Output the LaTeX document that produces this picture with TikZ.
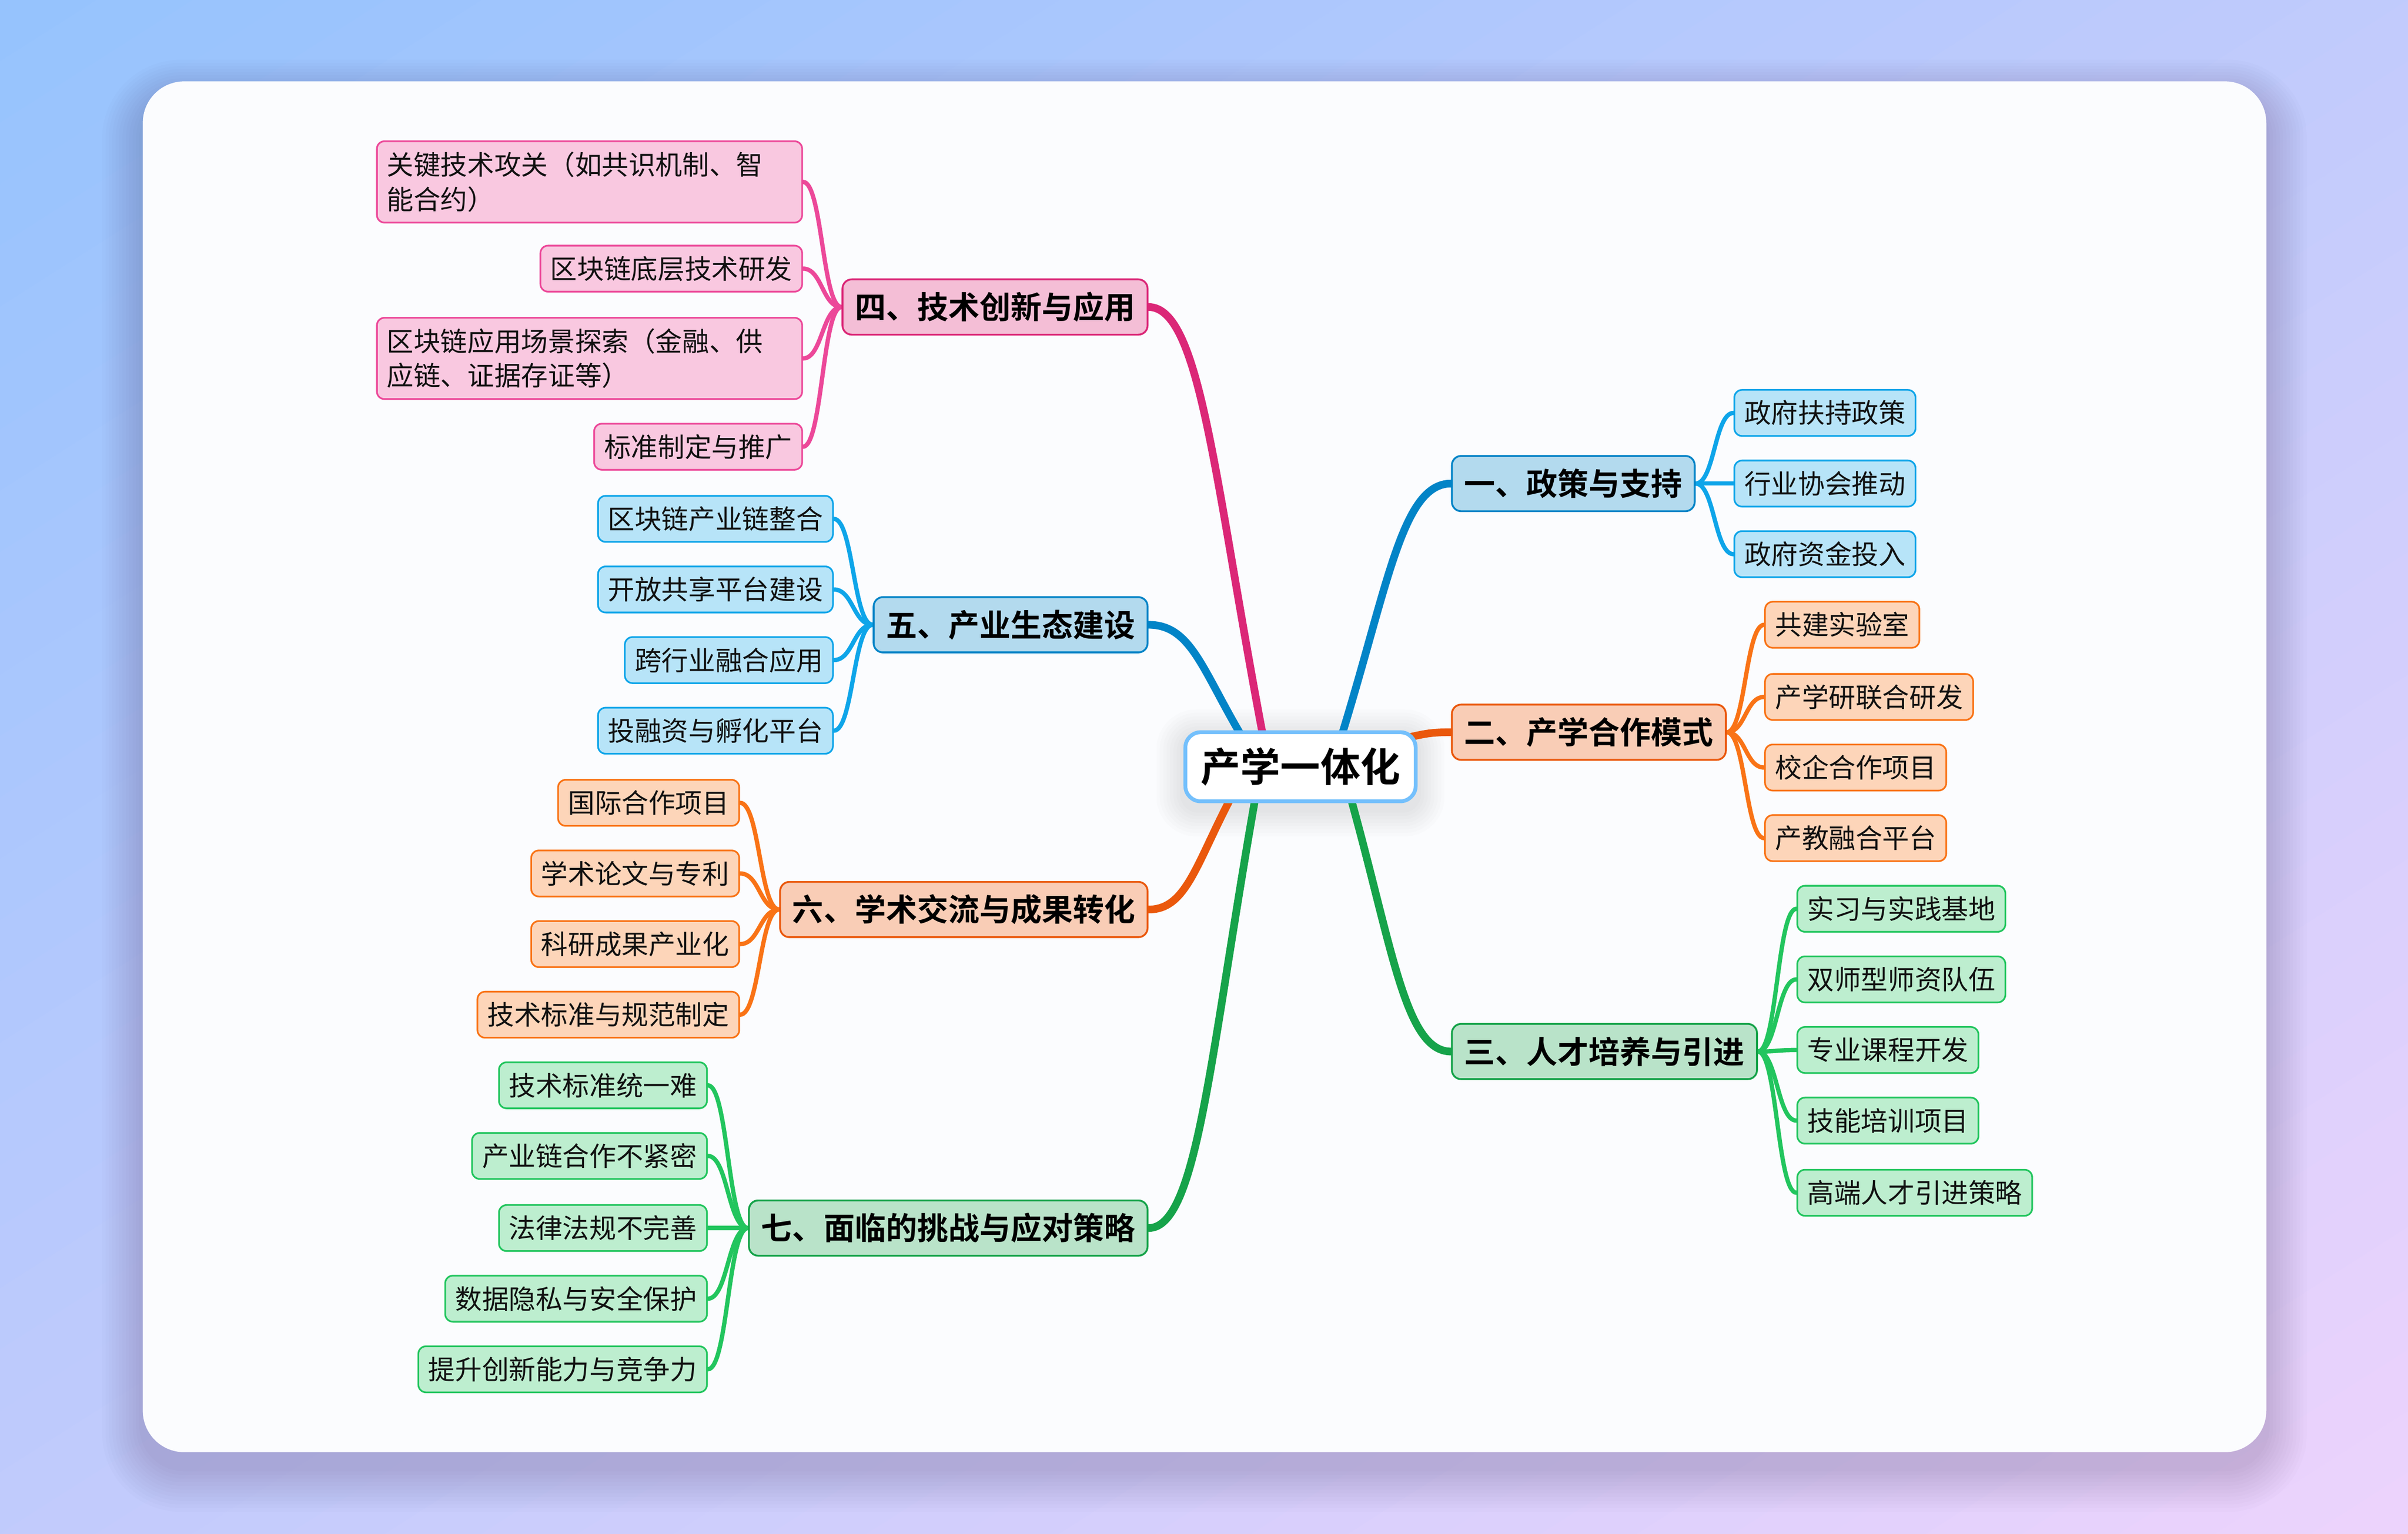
\documentclass[tikz,border=0pt]{standalone}
\usepackage{fontspec}
\setmainfont{Noto Sans CJK SC}[BoldFont={Noto Sans CJK SC Bold}]
\usetikzlibrary{calc}
\definecolor{MB}{HTML}{0284C7}\definecolor{LB}{HTML}{0EA5E9}
\definecolor{MO}{HTML}{EA580C}\definecolor{LO}{HTML}{F97316}
\definecolor{MG}{HTML}{16A34A}\definecolor{LG}{HTML}{22C55E}
\definecolor{MP}{HTML}{DB2777}\definecolor{LP}{HTML}{EC4899}
\definecolor{BGa}{HTML}{95C3FD}\definecolor{BGb}{HTML}{EDD3FC}
\definecolor{CardC}{HTML}{FBFCFE}\definecolor{CenB}{HTML}{74C0FC}
\definecolor{ShC}{HTML}{3A2A5A}
\definecolor{TextC}{HTML}{111111}
\newcommand\ms{\rule[-0.12em]{0pt}{1em}}
\pgfdeclarelayer{bgl}\pgfdeclarelayer{lines}\pgfsetlayers{bgl,lines,main}
\begin{document}
\begin{tikzpicture}[x=1pt,y=-1pt,
  leaf/.style={draw=#1, fill=#1!30!white, rounded corners=5pt, line width=1.1pt,
    inner xsep=6.5pt, inner ysep=0pt, minimum height=30pt, text=TextC,
    font=\fontsize{17.5}{22.5}\selectfont},
  leaftwo/.style={leaf=#1, inner ysep=6.5pt, align=left, text width=264pt},
  branch/.style={draw=#1, fill=#1!30!white, rounded corners=6pt, line width=1.2pt,
    inner xsep=8pt, inner ysep=0pt, minimum height=36pt, text=black,
    font=\bfseries\fontsize{20.3}{24}\selectfont},
  centre/.style={draw=CenB, fill=white, rounded corners=10pt, line width=2.5pt,
    inner xsep=10pt, inner ysep=0pt, minimum height=45pt, text=black,
    font=\bfseries\fontsize{26}{30}\selectfont},
  mainline/.style={draw=#1, line width=5pt, line cap=round},
  leafline/.style={draw=#1, line width=2.8pt, line cap=round},
  leafcurve/.style={to path={.. controls ($(\tikztostart)!0.5!(\tikztotarget |- \tikztostart)$) and ($(\tikztotarget)!0.5!(\tikztostart |- \tikztotarget)$) .. (\tikztotarget) \tikztonodes}}
]
\useasboundingbox (0,0) rectangle (1568.3,999);
\begin{pgfonlayer}{bgl}
  % diagonal gradient background, drawn as bands
  \begin{scope}
    \clip (0,0) rectangle (1568.3,999);
    \foreach \i in {0,...,49} {
      \pgfmathsetmacro\sa{\i/25}
      \pgfmathsetmacro\sb{(\i+1.15)/25}
      \pgfmathsetmacro\pc{(\i+0.5)*2}
      \fill[BGb!\pc!BGa] (\sa*1568.3,0) -- (\sb*1568.3,0) -- (0,\sb*999) -- (0,\sa*999) -- cycle;
    }
  \end{scope}
  % card shadow
  \foreach \i in {1,...,12} {
    \fill[ShC, opacity=0.014, rounded corners=27pt+\i*2pt]
      (93-\i*2.2,53-\i*2.0+10) rectangle (1476+\i*2.2,946+\i*2.4+10);
  }
  % card
  \fill[CardC, rounded corners=27pt] (93,53) rectangle (1476,946);
\end{pgfonlayer}

% centre
\node[centre] (c) at (847,499.5) {\ms 产学一体化};

% branches
\node[branch=MB, anchor=west] (b1) at (945,315) {\ms 一、政策与支持};
\node[branch=MO, anchor=west] (b2) at (945,477) {\ms 二、产学合作模式};
\node[branch=MG, anchor=west] (b3) at (945,685) {\ms 三、人才培养与引进};
\node[branch=MP, anchor=east] (b4) at (748,200) {\ms 四、技术创新与应用};
\node[branch=MB, anchor=east] (b5) at (748,407) {\ms 五、产业生态建设};
\node[branch=MO, anchor=east] (b6) at (748,592.5) {\ms 六、学术交流与成果转化};
\node[branch=MG, anchor=east] (b7) at (748,800) {\ms 七、面临的挑战与应对策略};

% leaves right
\node[leaf=LB, anchor=west] (l11) at (1129,269) {\ms 政府扶持政策};
\node[leaf=LB, anchor=west] (l12) at (1129,315) {\ms 行业协会推动};
\node[leaf=LB, anchor=west] (l13) at (1129,361) {\ms 政府资金投入};
\node[leaf=LO, anchor=west] (l21) at (1149,407) {\ms 共建实验室};
\node[leaf=LO, anchor=west] (l22) at (1149,454) {\ms 产学研联合研发};
\node[leaf=LO, anchor=west] (l23) at (1149,500) {\ms 校企合作项目};
\node[leaf=LO, anchor=west] (l24) at (1149,546) {\ms 产教融合平台};
\node[leaf=LG, anchor=west] (l31) at (1170,592) {\ms 实习与实践基地};
\node[leaf=LG, anchor=west] (l32) at (1170,638) {\ms 双师型师资队伍};
\node[leaf=LG, anchor=west] (l33) at (1170,684) {\ms 专业课程开发};
\node[leaf=LG, anchor=west] (l34) at (1170,730) {\ms 技能培训项目};
\node[leaf=LG, anchor=west] (l35) at (1170,777) {\ms 高端人才引进策略};

% leaves left
\node[leaftwo=LP, anchor=east] (l41) at (523,118.5) {\ms 关键技术攻关（如共识机制、智\\\ms 能合约）};
\node[leaf=LP, anchor=east] (l42) at (523,175) {\ms 区块链底层技术研发};
\node[leaftwo=LP, anchor=east] (l43) at (523,233.5) {\ms 区块链应用场景探索（金融、供\\\ms 应链、证据存证等）};
\node[leaf=LP, anchor=east] (l44) at (523,291) {\ms 标准制定与推广};
\node[leaf=LB, anchor=east] (l51) at (543,338) {\ms 区块链产业链整合};
\node[leaf=LB, anchor=east] (l52) at (543,384) {\ms 开放共享平台建设};
\node[leaf=LB, anchor=east] (l53) at (543,430) {\ms 跨行业融合应用};
\node[leaf=LB, anchor=east] (l54) at (543,476) {\ms 投融资与孵化平台};
\node[leaf=LO, anchor=east] (l61) at (482,523) {\ms 国际合作项目};
\node[leaf=LO, anchor=east] (l62) at (482,569) {\ms 学术论文与专利};
\node[leaf=LO, anchor=east] (l63) at (482,615) {\ms 科研成果产业化};
\node[leaf=LO, anchor=east] (l64) at (482,661) {\ms 技术标准与规范制定};
\node[leaf=LG, anchor=east] (l71) at (461,707) {\ms 技术标准统一难};
\node[leaf=LG, anchor=east] (l72) at (461,753) {\ms 产业链合作不紧密};
\node[leaf=LG, anchor=east] (l73) at (461,800) {\ms 法律法规不完善};
\node[leaf=LG, anchor=east] (l74) at (461,846) {\ms 数据隐私与安全保护};
\node[leaf=LG, anchor=east] (l75) at (461,892) {\ms 提升创新能力与竞争力};

\begin{pgfonlayer}{bgl}
  % soft glow around the centre node
  \foreach \i in {1,...,8} {
    \fill[black, opacity=0.012, rounded corners=10pt+\i*2pt]
      ([xshift=-\i*2.2pt,yshift=\i*2.2pt-4pt]c.north west) rectangle ([xshift=\i*2.2pt,yshift=-\i*2.2pt-4pt]c.south east);
  }
\end{pgfonlayer}

\begin{pgfonlayer}{lines}
  % main connectors
  \draw[mainline=MB] ([xshift=26pt,yshift=-6pt]c.north) .. controls +(31,-100) and +(-32,0) .. (b1.west);
  \draw[mainline=MO] ([xshift=-12pt,yshift=18pt]c.east) .. controls +(16,-3) and +(-16,0) .. (b2.west);
  \draw[mainline=MG] ([xshift=32pt,yshift=6pt]c.south) .. controls +(28,100) and +(-30,0) .. (b3.west);
  \draw[mainline=MP] ([xshift=-24pt,yshift=-6pt]c.north) .. controls +(-32,-168) and +(34,0) .. (b4.east);
  \draw[mainline=MB] ([xshift=-37pt,yshift=-6pt]c.north) .. controls +(-27,-45) and +(28,0) .. (b5.east);
  \draw[mainline=MO] ([xshift=-44pt,yshift=6pt]c.south) .. controls +(-24,45) and +(25,0) .. (b6.east);
  \draw[mainline=MG] ([xshift=-29pt,yshift=6pt]c.south) .. controls +(-30,170) and +(32,0) .. (b7.east);
  % leaf connectors
  \foreach \n in {l11,l12,l13} \draw[leafline=LB] (b1.east) to[leafcurve] (\n.west);
  \foreach \n in {l21,l22,l23,l24} \draw[leafline=LO] (b2.east) to[leafcurve] (\n.west);
  \foreach \n in {l31,l32,l33,l34,l35} \draw[leafline=LG] (b3.east) to[leafcurve] (\n.west);
  \foreach \n in {l41,l42,l43,l44} \draw[leafline=LP] (b4.west) to[leafcurve] (\n.east);
  \foreach \n in {l51,l52,l53,l54} \draw[leafline=LB] (b5.west) to[leafcurve] (\n.east);
  \foreach \n in {l61,l62,l63,l64} \draw[leafline=LO] (b6.west) to[leafcurve] (\n.east);
  \foreach \n in {l71,l72,l73,l74,l75} \draw[leafline=LG] (b7.west) to[leafcurve] (\n.east);
\end{pgfonlayer}
\end{tikzpicture}
\end{document}
